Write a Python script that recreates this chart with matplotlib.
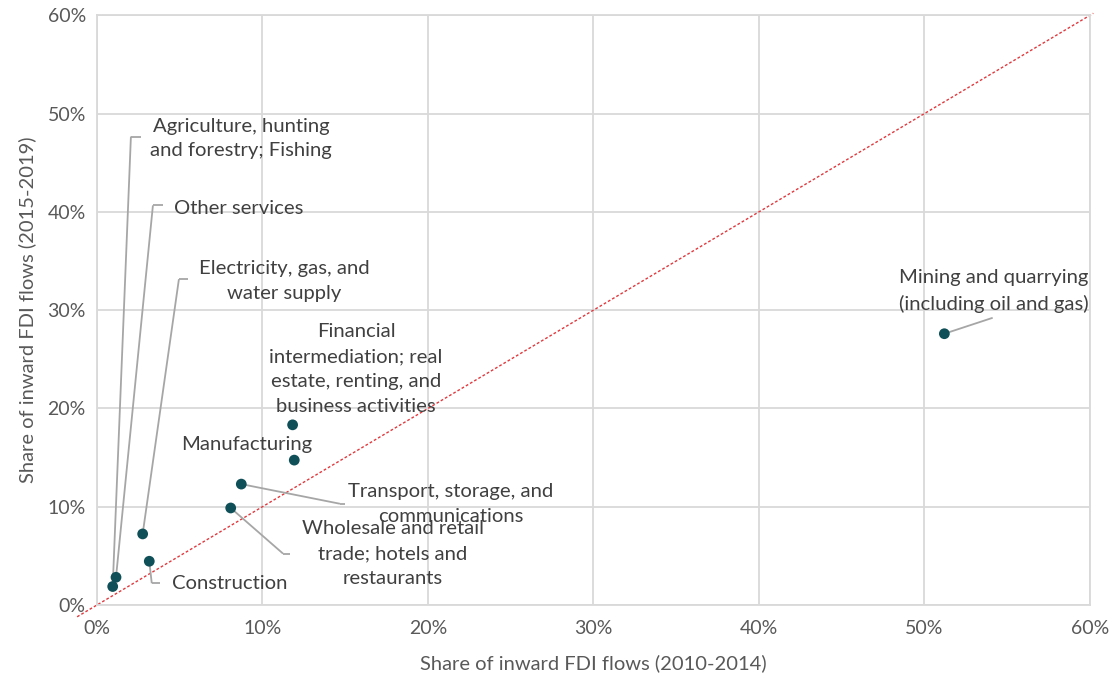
import matplotlib
matplotlib.use("Agg")
import matplotlib.pyplot as plt
from matplotlib.ticker import FuncFormatter, MultipleLocator

plt.rcParams['font.family'] = ['Lato', 'DejaVu Sans']

# Sector shares of inward FDI flows (%)
sectors = [
    "Agriculture, hunting\nand forestry; Fishing",
    "Other services",
    "Electricity, gas, and\nwater supply",
    "Construction",
    "Wholesale and retail\ntrade; hotels and\nrestaurants",
    "Transport, storage, and\ncommunications",
    "Financial\nintermediation; real\nestate, renting, and\nbusiness activities",
    "Manufacturing",
    "Mining and quarrying\n(including oil and gas)",
]
share_2010_2014 = [0.95, 1.15, 2.76, 3.16, 8.08, 8.72, 11.82, 11.92, 51.2]
share_2015_2019 = [1.88, 2.82, 7.23, 4.45, 9.87, 12.30, 18.33, 14.74, 27.6]

# Label placement: text anchor, horizontal alignment, and leader elbow (or None)
label_pos = [(8.70, 47.46), (8.58, 40.36), (11.30, 32.94), (4.53, 2.18),
             (17.89, 5.23), (21.39, 10.30), (15.65, 24.01), (9.06, 16.29),
             (54.20, 31.93)]
label_ha = ["center", "center", "center", "left", "center", "center",
            "center", "center", "center"]
leader = [((2.05, 47.66), 2.64), ((3.38, 40.66), 3.99), ((4.95, 33.15), 5.50),
          ((3.31, 2.21), 3.81), ((11.24, 5.23), 11.66), ((14.68, 10.30), 15.0),
          None, None, ((54.12, 29.22), None)]

fig = plt.figure(figsize=(11.16, 6.79), dpi=100)
ax = fig.add_axes([0.0869, 0.109, 0.8898, 0.8685])

ax.set_xlim(0, 60)
ax.set_ylim(0, 60)
ax.xaxis.set_major_locator(MultipleLocator(10))
ax.yaxis.set_major_locator(MultipleLocator(10))
pct = FuncFormatter(lambda v, p: f"{v:.0f}%")
ax.xaxis.set_major_formatter(pct)
ax.yaxis.set_major_formatter(pct)

grid_c = "#d9d9d9"
ax.grid(True, color=grid_c, linewidth=1.3, zorder=0)
for s in ax.spines.values():
    s.set_color(grid_c)
    s.set_linewidth(1.3)
ax.tick_params(length=0, labelsize=14, labelcolor="#595959")
ax.tick_params(axis="x", pad=11)
ax.tick_params(axis="y", pad=8)

# Parity line (equal shares in both periods)
diag = [-1.2, 60.2]
ax.plot(diag, diag, linestyle=(0, (2, 1.5)), color="#e0393e", linewidth=1.0,
        clip_on=False, zorder=2)

label_c = "#404040"
lead_c = "#a6a6a6"
for i, name in enumerate(sectors):
    px, py = share_2010_2014[i], share_2015_2019[i]
    ld = leader[i]
    if ld is not None:
        (cx, cy), ex = ld
        ax.plot([px, cx], [py, cy], color=lead_c, linewidth=1.3, zorder=3,
                solid_capstyle="butt")
        if ex is not None:
            ax.plot([cx, ex], [cy, cy], color=lead_c, linewidth=1.3, zorder=3,
                    solid_capstyle="butt")
    tx, ty = label_pos[i]
    ax.text(tx, ty, name, ha=label_ha[i], va="center", fontsize=14.6,
            color=label_c, linespacing=1.55, zorder=5)

ax.scatter(share_2010_2014, share_2015_2019, s=60, color="#0f4f57",
           edgecolors="none", zorder=4)

ax.set_xlabel("Share of inward FDI flows (2010-2014)", fontsize=14.5,
              color="#595959", labelpad=12)
ax.set_ylabel("Share of inward FDI flows (2015-2019)", fontsize=14.5,
              color="#595959", labelpad=8)

fig.savefig("out.png", dpi=100)
